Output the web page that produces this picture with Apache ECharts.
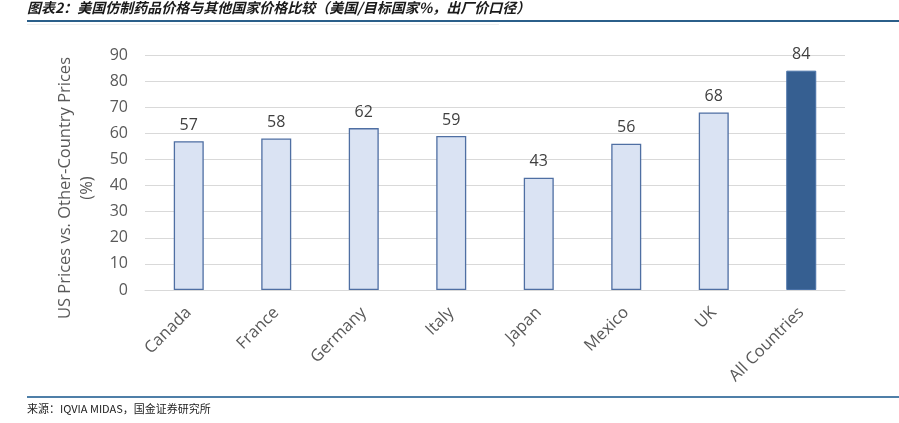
<!DOCTYPE html>
<html><head><meta charset="utf-8">
<script src="https://cdn.jsdelivr.net/npm/echarts@6/dist/echarts.min.js"></script>
<style>
html,body{margin:0;padding:0;background:#fff;}
#c{width:899px;height:423px;}
</style></head>
<body><div id="c"></div>
<script>
const titleText = "图表2：美国仿制药品价格与其他国家价格比较（美国/目标国家%，出厂价口径）";
const sourceText = "来源：IQVIA MIDAS，国金证券研究所";
const categories = ["Canada","France","Germany","Italy","Japan","Mexico","UK","All Countries"];
const values = [57,58,62,59,43,56,68,84];
const yTicks = {min:0, max:90, interval:10};
const yName = "US Prices vs. Other-Country Prices\n(%)";

const chart = echarts.init(document.getElementById('c'));
const lastIdx = categories.length - 1;
chart.setOption({
  animation:false,
  graphic:[
    {type:'text', left:27, top:1, style:{text:titleText, font:'italic bold 14px "Noto Sans CJK SC"', fill:'#1a1a1a'}},
    {type:'rect', shape:{x:27,y:20,width:872,height:2}, style:{fill:'#2b5f8a'}},
    {type:'rect', shape:{x:27,y:24,width:472,height:1}, style:{fill:'#eeeeee'}},
    {type:'rect', shape:{x:27,y:396,width:872,height:2}, style:{fill:'#4f7fa8'}},
    {type:'text', left:27, top:403, style:{text:sourceText, font:'11px "Noto Sans CJK SC"', fill:'#222'}},
    {type:'text', x:76, y:188, rotation:Math.PI/2,
      style:{text:yName, font:'16.5px "Open Sans"', fill:'#595959', align:'center', verticalAlign:'middle', lineHeight:22}}
  ],
  grid:{left:145, right:54, top:55, bottom:133},
  xAxis:{
    type:'category', data:categories,
    axisLine:{lineStyle:{color:'#d9d9d9', width:1}},
    axisTick:{show:false},
    axisLabel:{rotate:45, color:'#595959', fontSize:16.5, fontFamily:'Open Sans', margin:20, interval:0}
  },
  yAxis:{
    type:'value', min:yTicks.min, max:yTicks.max, interval:yTicks.interval,
    axisLine:{show:false}, axisTick:{show:false},
    axisLabel:{color:'#595959', fontSize:16, fontFamily:'Open Sans', margin:17},
    splitLine:{lineStyle:{color:'#d9d9d9', width:1}}
  },
  series:[{
    type:'bar', barWidth:30,
    data: values.map((v,i)=>({
      value:v,
      itemStyle: i===lastIdx ? {color:'#365f91', borderColor:'#4a72a8', borderWidth:1}
                             : {color:'#dae3f3', borderColor:'#4f6fa3', borderWidth:1.3}
    })),
    label:{show:true, position:'top', distance:8, color:'#404040', fontSize:16, fontFamily:'Open Sans'}
  }]
});
</script></body></html>
